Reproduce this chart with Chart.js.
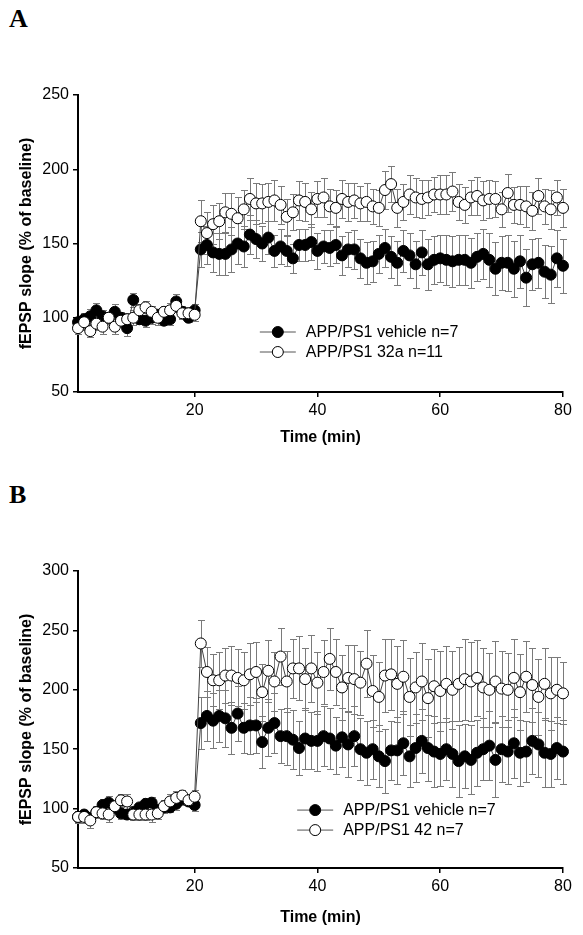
<!DOCTYPE html>
<html>
<head>
<meta charset="utf-8">
<script src="https://cdn.jsdelivr.net/npm/chart.js@4/dist/chart.umd.min.js"></script>
<style>
  body { margin: 0; background: #fff; width: 583px; height: 935px; position: relative; overflow: hidden; }
  .panel { position: absolute; left: 0; width: 583px; }
  .letter { position: absolute; left: 9px; font: bold 26px "Liberation Serif", "Times New Roman", serif; line-height: 1; }
</style>
</head>
<body>
<div class="letter" style="top:6px">A</div>
<div class="letter" style="top:482px">B</div>
<div class="panel" style="top:0px;height:460px"><canvas id="chartA"></canvas></div>
<div class="panel" style="top:470px;height:465px"><canvas id="chartB"></canvas></div>
<script>
// time points (min)
const minutes = [1, 2, 3, 4, 5, 6, 7, 8, 9, 10, 11, 12, 13, 14, 15, 16, 17, 18, 19, 20,
  21, 22, 23, 24, 25, 26, 27, 28, 29, 30, 31, 32, 33, 34, 35, 36, 37, 38, 39, 40,
  41, 42, 43, 44, 45, 46, 47, 48, 49, 50, 51, 52, 53, 54, 55, 56, 57, 58, 59, 60,
  61, 62, 63, 64, 65, 66, 67, 68, 69, 70, 71, 72, 73, 74, 75, 76, 77, 78, 79, 80];
const xTicks = [20, 40, 60, 80];
const yTicksA = [50, 100, 150, 200, 250];
const yTicksB = [50, 100, 150, 200, 250, 300];

// panel A
const vehicleA = [97, 99, 101, 105, 101, 100, 104, 100, 93, 112, 99, 98, 100, 102, 98, 99, 111, 104, 100, 105,
  146, 149, 144, 143, 143, 146, 150, 148, 156, 153, 150, 154, 145, 148, 145, 140, 149, 149, 151, 145,
  148, 147, 149, 142, 146, 146, 140, 137, 138, 143,
  147, 141, 137, 145, 142, 136, 144, 136, 139, 140, 139, 138, 139, 139, 137, 141, 143, 139, 133, 137,
  137, 133, 138, 127, 136, 137, 131, 129, 140, 135];
const vehicleErrA = [3, 4, 5, 5, 4, 3, 5, 4, 5, 5, 3, 4, 4, 3, 3, 4, 5, 4, 3, 4,
  12, 13, 13, 14, 14, 15, 14, 14, 13, 13, 12, 11, 11, 12, 10, 10, 11, 11, 12, 12,
  11, 12, 12, 13, 12, 13, 13, 14, 14, 13,
  13, 14, 15, 14, 15, 16, 15, 17, 16, 16, 17, 17, 17, 17, 17, 16, 17, 18, 18, 18,
  19, 19, 18, 19, 17, 17, 18, 19, 19, 18];
const drugA = [93, 97, 91, 96, 94, 100, 94, 98, 99, 100, 105, 107, 104, 100, 104, 105, 108, 103, 103, 102,
  165, 157, 163, 165, 171, 170, 167, 173, 180, 177, 177, 178, 179, 176, 168, 171, 179, 178, 173, 180,
  181, 175, 174, 180, 178, 179, 177, 178, 175, 174,
  186, 190, 174, 178, 183, 181, 180, 181, 183, 183, 183, 185, 178, 176, 181, 182, 179, 180, 180, 173,
  184, 176, 176, 175, 172, 182, 175, 173, 181, 174];
const drugErrA = [4, 5, 4, 4, 5, 4, 5, 4, 4, 5, 4, 4, 4, 5, 4, 5, 4, 4, 4, 4,
  14, 14, 13, 12, 13, 14, 14, 13, 14, 14, 13, 13, 14, 13, 12, 12, 13, 13, 12, 12,
  13, 12, 12, 13, 13, 12, 12, 13, 12, 12,
  13, 12, 13, 12, 13, 13, 13, 12, 12, 13, 13, 13, 12, 12, 12, 13, 13, 13, 12, 12,
  13, 12, 13, 14, 13, 12, 12, 13, 12, 13];

// panel B
const vehicleB = [93, 95, 92, 97, 103, 105, 101, 96, 95, 97, 101, 104, 105, 99, 101, 101, 104, 108, 106, 103,
  172, 178, 174, 178, 176, 168, 180, 168, 170, 170, 156, 168, 172, 161, 161, 158, 151, 159, 157, 157,
  161, 159, 153, 160, 154, 161, 150, 147, 150, 144,
  140, 149, 149, 155, 144, 151, 157, 151, 148, 146, 150, 146, 140, 144, 141, 147, 150, 153, 141, 150,
  148, 155, 147, 148, 157, 154, 147, 146, 151, 148];
const vehicleErrB = [4, 4, 5, 5, 5, 6, 5, 5, 4, 5, 4, 5, 5, 4, 5, 4, 5, 5, 4, 5,
  22, 21, 23, 22, 24, 22, 23, 21, 24, 23, 22, 24, 25, 23, 24, 25, 23, 26, 24, 25,
  25, 26, 24, 25, 27, 25, 26, 27, 25, 26,
  27, 25, 28, 27, 26, 29, 27, 28, 30, 27, 26, 28, 30, 27, 29, 28, 26, 29, 31, 28,
  27, 29, 28, 26, 28, 27, 29, 28, 26, 27];
const drugB = [93, 93, 90, 97, 96, 95, 102, 107, 106, 95, 95, 95, 95, 96, 102, 106, 109, 111, 107, 110,
  239, 215, 208, 208, 212, 212, 210, 208, 213, 215, 198, 216, 207, 228, 207, 218, 218, 209, 218, 206,
  215, 226, 215, 202, 210, 209, 206, 222, 199, 194,
  212, 213, 205, 211, 194, 202, 207, 193, 203, 199, 205, 200, 205, 209, 207, 210, 202, 200, 207, 201,
  200, 210, 198, 211, 204, 194, 205, 197, 200, 197];
const drugErrB = [5, 5, 6, 5, 5, 6, 5, 5, 6, 5, 5, 5, 6, 5, 5, 6, 6, 5, 5, 6,
  20, 21, 22, 24, 23, 25, 24, 24, 26, 25, 24, 26, 25, 24, 26, 25, 27, 26, 28, 26,
  27, 26, 28, 27, 28, 29, 27, 28, 30, 29,
  31, 30, 32, 31, 33, 30, 32, 33, 31, 34, 32, 33, 31, 34, 33, 32, 33, 31, 34, 32,
  31, 33, 32, 30, 31, 32, 30, 31, 28, 26];

const FONT = '"Liberation Sans", Arial, sans-serif';

// error bars under the markers
const errorBars = {
  id: 'errorBars',
  beforeDatasetsDraw(chart) {
    const ctx = chart.ctx;
    const yScale = chart.scales.y;
    const cap = 3.5;
    ctx.save();
    ctx.strokeStyle = '#7a7a7a';
    ctx.lineWidth = 1;
    chart.data.datasets.forEach((ds, i) => {
      const meta = chart.getDatasetMeta(i);
      meta.data.forEach((pt, j) => {
        const v = ds.data[j].y;
        const e = ds.errors[j];
        const top = Math.round(yScale.getPixelForValue(v + e)) + 0.5;
        const bot = Math.round(yScale.getPixelForValue(v - e)) + 0.5;
        const x = Math.round(pt.x) + 0.5;
        ctx.beginPath();
        ctx.moveTo(x, top); ctx.lineTo(x, bot);
        ctx.moveTo(x - cap, top); ctx.lineTo(x + cap, top);
        ctx.moveTo(x - cap, bot); ctx.lineTo(x + cap, bot);
        ctx.stroke();
      });
    });
    ctx.restore();
  }
};

// legend inside the plot
const innerLegend = {
  id: 'innerLegend',
  afterDraw(chart, args, opts) {
    const ctx = chart.ctx;
    const a = chart.chartArea;
    const x = a.left + (a.right - a.left) * opts.x;
    let y = a.top + (a.bottom - a.top) * opts.y;
    ctx.save();
    ctx.font = '16px ' + FONT;
    ctx.textBaseline = 'middle';
    ctx.fillStyle = '#000';
    opts.items.forEach(item => {
      ctx.strokeStyle = '#555';
      ctx.lineWidth = 1;
      ctx.beginPath();
      ctx.moveTo(x - 18, y); ctx.lineTo(x + 18, y);
      ctx.stroke();
      ctx.beginPath();
      ctx.arc(x, y, 5.5, 0, Math.PI * 2);
      ctx.fillStyle = item.fill;
      ctx.fill();
      ctx.strokeStyle = '#000';
      ctx.stroke();
      ctx.fillStyle = '#000';
      ctx.fillText(item.text, x + 28, y + 1);
      y += 20;
    });
    ctx.restore();
  }
};

function makeChart(id, cfg) {
  const series = (vals) => minutes.map((m, i) => ({ x: m, y: vals[i] }));
  return new Chart(document.getElementById(id), {
    type: 'line',
    data: {
      datasets: [
        {
          label: cfg.names[0],
          data: series(cfg.vehicle),
          errors: cfg.vehicleErr,
          borderColor: '#444',
          borderWidth: 1,
          pointRadius: 5.5,
          pointBorderWidth: 1,
          pointBorderColor: '#000',
          pointBackgroundColor: '#000',
          order: 2,
          clip: false
        },
        {
          label: cfg.names[1],
          data: series(cfg.drug),
          errors: cfg.drugErr,
          borderColor: '#444',
          borderWidth: 1,
          pointRadius: 5.5,
          pointBorderWidth: 1,
          pointBorderColor: '#000',
          pointBackgroundColor: '#fff',
          order: 1,
          clip: false
        }
      ]
    },
    options: {
      responsive: true,
      maintainAspectRatio: false,
      animation: false,
      layout: { padding: { top: cfg.padTop, left: 0, right: 20, bottom: 0 } },
      plugins: {
        legend: { display: false },
        tooltip: { enabled: false },
        innerLegend: {
          x: cfg.legendX, y: cfg.legendY,
          items: [{ text: cfg.names[0], fill: '#000' }, { text: cfg.names[1], fill: '#fff' }]
        }
      },
      scales: {
        x: {
          type: 'linear',
          min: 1,
          max: 80,
          afterBuildTicks: (s) => { s.ticks = xTicks.map(v => ({ value: v })); },
          afterFit: (s) => { s.height = cfg.xHeight; },
          grid: { drawOnChartArea: false, drawTicks: true, tickLength: 5, color: '#000', lineWidth: 1.5 },
          border: { display: true, color: '#000', width: 2 },
          ticks: { color: '#000', font: { family: FONT, size: 16 }, padding: 4, maxRotation: 0 },
          title: { display: true, text: 'Time (min)', color: '#000', font: { family: FONT, size: 16, weight: 'bold' }, padding: { top: 4, bottom: cfg.xTitlePad } }
        },
        y: {
          min: cfg.yTicks[0],
          max: cfg.yTicks[cfg.yTicks.length - 1],
          afterBuildTicks: (s) => { s.ticks = cfg.yTicks.map(v => ({ value: v })); },
          afterFit: (s) => { s.width = 78; },
          grid: { drawOnChartArea: false, drawTicks: true, tickLength: 5, color: '#000', lineWidth: 1.5 },
          border: { display: true, color: '#000', width: 2 },
          ticks: { color: '#000', font: { family: FONT, size: 16 }, padding: 4 },
          title: { display: true, text: 'fEPSP slope (% of baseline)', color: '#000', font: { family: FONT, size: 16, weight: 'bold' }, padding: { top: 17, bottom: 0 } }
        }
      }
    },
    plugins: [errorBars, innerLegend]
  });
}

makeChart('chartA', {
  vehicle: vehicleA, vehicleErr: vehicleErrA, drug: drugA, drugErr: drugErrA,
  names: ['APP/PS1 vehicle n=7', 'APP/PS1 32a n=11'],
  yTicks: yTicksA, padTop: 95, xHeight: 68, xTitlePad: 13,
  legendX: 0.412, legendY: 0.798
});

makeChart('chartB', {
  vehicle: vehicleB, vehicleErr: vehicleErrB, drug: drugB, drugErr: drugErrB,
  names: ['APP/PS1 vehicle n=7', 'APP/PS1 42 n=7'],
  yTicks: yTicksB, padTop: 101, xHeight: 67, xTitlePad: 8,
  legendX: 0.489, legendY: 0.805
});
</script>
</body>
</html>
